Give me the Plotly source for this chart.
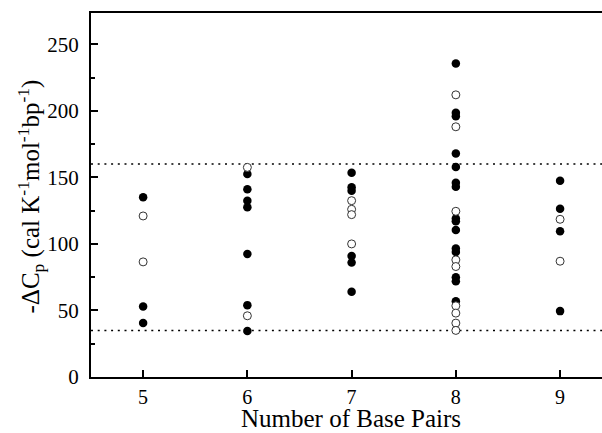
import plotly.graph_objects as go

# Number of base pairs (x) and -dCp values, filled symbols
filled_x = [5, 5, 5,
            6, 6, 6, 6, 6, 6, 6,
            7, 7, 7, 7, 7, 7,
            8, 8, 8, 8, 8, 8, 8, 8, 8, 8, 8, 8, 8, 8, 8,
            9, 9, 9, 9]
filled_y = [135, 53, 40.5,
            152.5, 141, 132.5, 127.5, 92.5, 54, 34.5,
            153.5, 142.5, 140, 91, 86, 64,
            235.5, 198.5, 196, 168, 157.8, 146, 143, 119, 117, 110.5, 96.5, 94, 75, 72, 57,
            147.5, 126.5, 109.5, 49.5]

# open symbols
open_x = [5, 5,
          6, 6,
          7, 7, 7, 7,
          8, 8, 8, 8, 8, 8, 8, 8, 8,
          9, 9]
open_y = [121, 86.5,
          157.5, 46,
          132.5, 126, 122, 100,
          212, 188, 124.5, 88, 83, 53.5, 48, 40.5, 35,
          118.5, 87]

# dotted reference levels
ref_levels = [160, 35]

x_ticks = [5, 6, 7, 8, 9]
y_ticks = [0, 50, 100, 150, 200, 250]

x_title = "Number of Base Pairs"
y_title = "-ΔC<sub>p</sub> (cal K<sup>-1</sup>mol<sup>-1</sup>bp<sup>-1</sup>)"

FONT = "Liberation Serif, Times New Roman, serif"

fig = go.Figure()
fig.add_trace(go.Scatter(
    x=filled_x, y=filled_y, mode="markers",
    marker=dict(symbol="circle", size=8.5, color="black", line=dict(width=0)),
    showlegend=False, cliponaxis=False))
fig.add_trace(go.Scatter(
    x=open_x, y=open_y, mode="markers",
    marker=dict(symbol="circle", size=8, color="white", line=dict(width=1, color="#333333")),
    showlegend=False, cliponaxis=False))

for lv in ref_levels:
    fig.add_shape(type="line", xref="paper", x0=0, x1=1, yref="y", y0=lv, y1=lv,
                  line=dict(color="black", width=1.5, dash="2px,4.7px"), layer="below")

# axis titles as annotations for exact placement
fig.add_annotation(
    text=y_title, xref="paper", yref="paper", x=(30 - 91) / 511, y=(377 - 196.5) / 364,
    xanchor="center", yanchor="middle", textangle=-90, showarrow=False,
    font=dict(size=25, family=FONT, color="black"))
fig.add_annotation(
    text=x_title, xref="paper", yref="paper", x=(351 - 91) / 511, y=(377 - 433) / 364,
    xanchor="center", yanchor="bottom", showarrow=False, borderpad=0,
    font=dict(size=25, family=FONT, color="black"))

fig.update_layout(
    width=602, height=433,
    margin=dict(l=91, r=0, t=13, b=56),
    paper_bgcolor="white", plot_bgcolor="white",
    font=dict(family=FONT, color="black", size=20),
)
fig.update_xaxes(
    range=[4.5, 9.402], tickvals=x_ticks, ticktext=[str(v) for v in x_ticks],
    showgrid=False, zeroline=False,
    showline=True, linecolor="black", linewidth=2, mirror=True,
    ticks="inside", ticklen=7, tickwidth=2, tickcolor="black",
    tickfont=dict(size=20, family=FONT, color="black"),
    ticklabelstandoff=1,
)
fig.update_yaxes(
    range=[0, 273.5], tickvals=y_ticks, ticktext=[str(v) for v in y_ticks],
    showgrid=False, zeroline=False,
    showline=True, linecolor="black", linewidth=2, mirror=False,
    ticks="inside", ticklen=7, tickwidth=2, tickcolor="black",
    minor=dict(dtick=25, tick0=0, ticks="inside", ticklen=4, tickwidth=1.5, tickcolor="black"),
    tickfont=dict(size=21, family=FONT, color="black"),
    ticklabelstandoff=6,
)

fig.write_html("out.html")
